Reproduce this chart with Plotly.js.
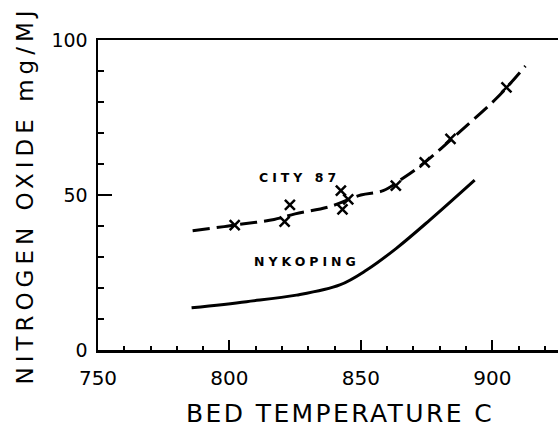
<!DOCTYPE html>
<html>
<head>
<meta charset="utf-8">
<script src="https://cdn.plot.ly/plotly-3.0.1.min.js"></script>
<style>
html,body{margin:0;padding:0;background:#fff;}
#chart{width:558px;height:430px;}
text.ytitle{letter-spacing:5px;}
</style>
</head>
<body>
<div id="chart"></div>
<script>
// CITY 87 measured points (x marks)
const cityX = [802, 821, 823, 842.4, 843, 845.2, 863.3, 874.3, 884.1, 905.4];
const cityY = [40.3, 41.4, 46.8, 51.4, 45.4, 48.6, 53.0, 60.5, 68.1, 84.7];
// CITY 87 fitted dashed curve
const cityFitX = [786, 798, 802, 817, 825, 838, 850, 858.5, 866, 874.3, 887.6, 901.6, 912.6];
const cityFitY = [38.5, 39.8, 40.3, 42.1, 43.9, 46.2, 50.0, 51.4, 55.4, 60.5, 70.4, 81.2, 91.6];
// NYKOPING solid curve
const nykX = [785.6, 806.5, 825.5, 842, 852.2, 863.5, 876.2, 893.3];
const nykY = [13.6, 15.6, 17.7, 21.0, 25.8, 32.8, 41.9, 54.8];
// Tick labels and titles
const xTicks = [750, 800, 850, 900];
const yTicks = [0, 50, 100];
const xTitle = 'BED TEMPERATURE C';
const yTitle = 'NITROGEN OXIDE mg/MJ';
const labels = [
  {text: 'CITY 87', x: 826.5, y: 55.7},
  {text: 'NYKOPING', x: 829.5, y: 28.5}
];

const traces = [
  {x: cityFitX, y: cityFitY, mode: 'lines', line: {color: '#000', width: 3, dash: '17px,7px', shape: 'spline', smoothing: 1}, hoverinfo: 'skip'},
  {x: cityX, y: cityY, mode: 'markers', marker: {symbol: 'x-thin', size: 10, color: '#000', line: {color: '#000', width: 2.5}}},
  {x: nykX, y: nykY, mode: 'lines', line: {color: '#000', width: 3, shape: 'spline', smoothing: 1}}
];

const annotations = labels.map(l => ({
  x: l.x, y: l.y, xref: 'x', yref: 'y',
  text: '<span style="letter-spacing:4px"><b>' + l.text + '</b></span>', showarrow: false,
  font: {size: 12.5, family: 'DejaVu Sans', color: '#000'}
}));
annotations.push({
  x: 0.525, y: -0.206, xref: 'paper', yref: 'paper', xanchor: 'center', yanchor: 'middle',
  text: '<span style="letter-spacing:2.4px">' + xTitle + '</span>', showarrow: false,
  font: {size: 25, family: 'DejaVu Sans', color: '#000'}
});

const layout = {
  width: 558, height: 430,
  margin: {l: 98, r: 0, t: 40, b: 80},
  paper_bgcolor: '#fff', plot_bgcolor: '#fff',
  showlegend: false,
  font: {family: 'DejaVu Sans', color: '#000'},
  xaxis: {
    range: [750, 925], showgrid: false, zeroline: false,
    showline: true, linecolor: '#000', linewidth: 2.5, mirror: true,
    tickmode: 'linear', tick0: xTicks[0], dtick: xTicks[1] - xTicks[0],
    ticks: 'inside', ticklen: 10, tickwidth: 2, tickcolor: '#000',
    minor: {tick0: 750, dtick: 10, ticks: 'inside', ticklen: 4, tickwidth: 2, tickcolor: '#000', showgrid: false},
    tickfont: {size: 20, family: 'DejaVu Sans'},
    ticklabelstandoff: 8
  },
  yaxis: {
    range: [0, 100], showgrid: false, zeroline: false,
    showline: true, linecolor: '#000', linewidth: 2.5,
    tickmode: 'linear', tick0: yTicks[0], dtick: yTicks[1] - yTicks[0],
    ticks: 'inside', ticklen: 14, tickwidth: 2, tickcolor: '#000',
    minor: {tick0: 0, dtick: 10, ticks: 'inside', ticklen: 6, tickwidth: 2, tickcolor: '#000', showgrid: false},
    tickfont: {size: 19, family: 'DejaVu Sans'},
    ticklabelstandoff: 4,
    title: {text: yTitle, font: {size: 23, family: 'DejaVu Sans'}, standoff: 12}
  },
  annotations: annotations
};

Plotly.newPlot('chart', traces, layout, {displayModeBar: false, staticPlot: true});
</script>
</body>
</html>
